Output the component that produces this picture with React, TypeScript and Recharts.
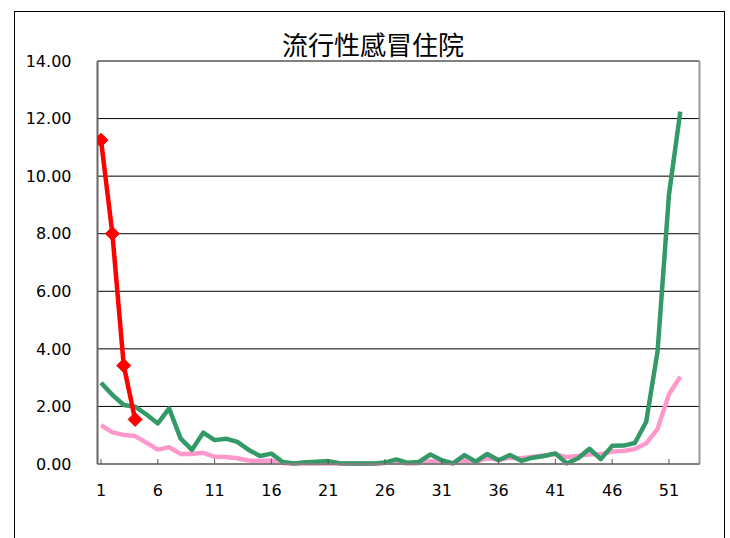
import React from "react";
import { LineChart, Line, XAxis, YAxis, CartesianGrid, ReferenceLine } from "recharts";

const weeks = [1, 2, 3, 4, 5, 6, 7, 8, 9, 10, 11, 12, 13, 14, 15, 16, 17, 18, 19, 20, 21, 22, 23, 24, 25, 26, 27, 28, 29, 30, 31, 32, 33, 34, 35, 36, 37, 38, 39, 40, 41, 42, 43, 44, 45, 46, 47, 48, 49, 50, 51, 52];

const greenSeries = [2.82, 2.4, 2.05, 1.99, 1.72, 1.41, 1.93, 0.89, 0.49, 1.09, 0.83, 0.88, 0.77, 0.49, 0.28, 0.36, 0.07, 0.02, 0.06, 0.08, 0.1, 0.03, 0.02, 0.02, 0.02, 0.05, 0.16, 0.04, 0.07, 0.33, 0.13, 0.02, 0.31, 0.08, 0.35, 0.13, 0.31, 0.11, 0.22, 0.28, 0.37, 0.02, 0.2, 0.53, 0.17, 0.63, 0.64, 0.73, 1.47, 3.92, 9.35, 12.24];

const pinkSeries = [1.35, 1.1, 1.01, 0.97, 0.74, 0.5, 0.58, 0.35, 0.35, 0.39, 0.25, 0.24, 0.2, 0.12, 0.1, 0.12, 0.03, 0.02, 0.02, 0.03, 0.02, 0.01, 0.01, 0.01, 0.01, 0.03, 0.08, 0.02, 0.03, 0.1, 0.05, 0.03, 0.12, 0.08, 0.2, 0.15, 0.22, 0.2, 0.25, 0.3, 0.34, 0.24, 0.28, 0.34, 0.34, 0.43, 0.45, 0.52, 0.72, 1.22, 2.42, 3.03];

const redSeries = [11.25, 8.0, 3.42, 1.55];

const xTicks = [1, 6, 11, 16, 21, 26, 31, 36, 41, 46, 51];
const yTicks = [0, 2, 4, 6, 8, 10, 12, 14];
const title = "流行性感冒住院";

const data = weeks.map((w, i) => ({
  week: w,
  green: greenSeries[i],
  pink: pinkSeries[i],
  red: i < redSeries.length ? redSeries[i] : null,
}));

const X_MIN = 0.69;
const X_MAX = 53.69;
const FONT = "'DejaVu Sans', sans-serif";

const XTick = (props: any) => {
  const { x, y, payload } = props;
  return (
    <g>
      <line x1={x} x2={x} y1={y} y2={y - 5} stroke="#555" strokeWidth={1} />
      <text x={x} y={y + 32} textAnchor="middle" fontSize={16} fontFamily={FONT} fill="#000">
        {payload.value}
      </text>
    </g>
  );
};

const Diamond = (props: any) => {
  const { cx, cy, index, payload } = props;
  if (cx == null || cy == null || payload == null || payload.red == null) {
    return <g key={`d-${index}`} />;
  }
  const s = 7;
  return (
    <polygon
      key={`d-${index}`}
      points={`${cx},${cy - s} ${cx + s},${cy} ${cx},${cy + s} ${cx - s},${cy}`}
      fill="#FF0000"
      stroke="#FF0000"
    />
  );
};

export default function App() {
  return (
    <div
      style={{
        position: "absolute",
        left: 0,
        top: 0,
        width: 730,
        height: 538,
        overflow: "hidden",
        background: "#fff",
      }}
    >
      <div
        style={{
          position: "absolute",
          left: 14,
          top: 11,
          width: 711,
          height: 600,
          border: "1px solid #000",
          boxSizing: "border-box",
        }}
      />
      <div
        style={{
          position: "absolute",
          left: 0,
          width: 746,
          top: 28,
          textAlign: "center",
          fontFamily: "'Noto Sans CJK TC', sans-serif",
          fontSize: 26,
          lineHeight: "32px",
          color: "#000",
        }}
      >
        {title}
      </div>
      <div style={{ position: "absolute", left: 0, top: 0 }}>
        <LineChart
          width={730}
          height={538}
          data={data}
          margin={{ top: 61, right: 30.5, bottom: 44, left: 0 }}
        >
          <CartesianGrid vertical={false} horizontal stroke="#000" strokeWidth={1} />
          <XAxis
            dataKey="week"
            type="number"
            domain={[X_MIN, X_MAX]}
            ticks={xTicks}
            allowDataOverflow
            height={30}
            tickSize={0}
            tickMargin={0}
            tickLine={false}
            axisLine={{ stroke: "#808080", strokeWidth: 2 }}
            tick={<XTick />}
            interval={0}
          />
          <YAxis
            type="number"
            domain={[0, 14]}
            ticks={yTicks}
            width={97.5}
            tickSize={0}
            tickMargin={26}
            tickLine={false}
            axisLine={{ stroke: "#666", strokeWidth: 2 }}
            tickFormatter={(v: number) => v.toFixed(2)}
            tick={{ fontSize: 16, fontFamily: FONT, fill: "#000" }}
            interval={0}
          />
          <ReferenceLine x={X_MAX} stroke="#999" strokeWidth={2} ifOverflow="visible" />
          <Line
            type="linear"
            dataKey="pink"
            name="平均"
            stroke="#FF99CC"
            strokeWidth={4.5}
            dot={false}
            strokeLinejoin="round"
            isAnimationActive={false}
          />
          <Line
            type="linear"
            dataKey="green"
            name="上季"
            stroke="#339966"
            strokeWidth={4.5}
            dot={false}
            strokeLinejoin="round"
            isAnimationActive={false}
          />
          <Line
            type="linear"
            dataKey="red"
            name="本季"
            stroke="#FF0000"
            strokeWidth={4.5}
            dot={(p: any) => <Diamond {...p} />}
            activeDot={false}
            connectNulls={false}
            isAnimationActive={false}
          />
        </LineChart>
      </div>
    </div>
  );
}
